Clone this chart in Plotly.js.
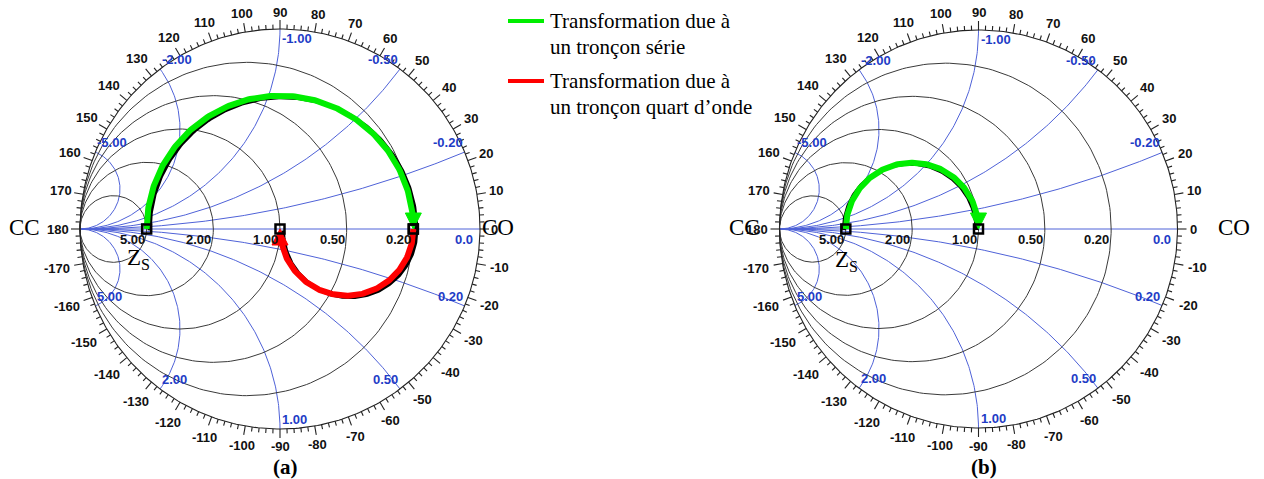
<!DOCTYPE html>
<html><head><meta charset="utf-8">
<script src="https://cdn.plot.ly/plotly-3.0.1.min.js"></script>
<style>html,body{margin:0;padding:0;background:#fff}#chart{width:1264px;height:479px}</style>
</head><body><div id="chart"></div>
<script>
// ---------------- data ----------------
const conductanceCircles = [0.2, 0.5, 1, 2, 5];
const conductanceLabels = ['0.20', '0.50', '1.00', '2.00', '5.00'];
const susceptanceArcs = [0.2, 0.5, 1, 2, 5, -0.2, -0.5, -1, -2, -5];
const susceptanceLabels = ['0.20', '0.50', '1.00', '2.00', '5.00', '-0.20', '-0.50', '-1.00', '-2.00', '-5.00'];
const angleTickLabels = [-170, -160, -150, -140, -130, -120, -110, -100, -90, -80, -70, -60, -50, -40, -30, -20, -10,
  0, 10, 20, 30, 40, 50, 60, 70, 80, 90, 100, 110, 120, 130, 140, 150, 160, 170, 180];
const chartNames = ['(a)', '(b)'];
// transformations: normalized admittance at start and end of each locus (rotation clockwise)
const lociChart = [0, 0, 1];
const lociStartAdmittance = [5, 0.2, 5];
const lociEndAdmittance = [0.2, 1, 1];
const lociType = ['serie', 'quart', 'serie'];
const legendLabels = [['Transformation due à', 'un tronçon série'], ['Transformation due à', 'un tronçon quart d\u2019onde']];

// ---------------- styles / geometry ----------------
const W = 1264, H = 479;
const charts = [
  {xa: 'x', ya: 'y', cx: 280, cy: 229, r: 200, domain: [0, 0.5], blackShift: [3, -1.5],
   cc: 24, co: 498, zs: [125, 243]},
  {xa: 'x2', ya: 'y2', cx: 978.5, cy: 229, r: 199, domain: [0.5, 1], blackShift: [-2, -1],
   cc: 744, co: 1234, zs: [833, 245]}
];
const BLUE_LINE = '#4f62d8', BLUE_TEXT = '#1e3cc6', GRID = '#3a3a3a';
const typeColor = {serie: '#00ee00', quart: '#ff0000'};
const SANS = 'Liberation Sans, Arial, sans-serif';
const SERIF = 'Liberation Serif, Times New Roman, serif';
const LBL = 13;
const D = Math.PI / 180;

function arc(cx, cy, r, a0, a1, n) {
  const xs = [], ys = [];
  for (let i = 0; i <= n; i++) {
    const a = (a0 + (a1 - a0) * i / n) * D;
    xs.push(cx + r * Math.cos(a)); ys.push(cy + r * Math.sin(a));
  }
  return [xs, ys];
}
const gamma = y => (1 - y) / (1 + y);

const traces = [];
const annotations = [];
const shapes = [];

charts.forEach((c, k) => {
  const base = {xaxis: c.xa, yaxis: c.ya, hoverinfo: 'skip', showlegend: false, type: 'scatter', mode: 'lines'};
  // susceptance arcs
  let bx = [], by = [];
  susceptanceArcs.forEach(b => {
    const Cx = -1, Cy = -1 / b, R = 1 / Math.abs(b);
    const a0 = Math.atan2(1 / b, 0) / D;
    const phi = -2 * Math.atan(b);
    const px = Math.cos(phi), py = Math.sin(phi);
    let a1 = Math.atan2(py - Cy, px - Cx) / D;
    let d = a1 - a0; while (d > 180) d -= 360; while (d < -180) d += 360;
    const [xs, ys] = arc(Cx, Cy, R, a0, a0 + d, 160);
    bx = bx.concat(xs, [null]); by = by.concat(ys, [null]);
  });
  bx.push(-1, 1); by.push(0, 0);
  traces.push(Object.assign({}, base, {x: bx, y: by, line: {color: BLUE_LINE, width: 1}}));
  // conductance circles
  let gx = [], gy = [];
  conductanceCircles.forEach(g => {
    const [xs, ys] = arc(-g / (1 + g), 0, 1 / (1 + g), 0, 360, 240);
    gx = gx.concat(xs, [null]); gy = gy.concat(ys, [null]);
  });
  traces.push(Object.assign({}, base, {x: gx, y: gy, line: {color: GRID, width: 1}}));
  // outer circle + ticks
  const [ox, oy] = arc(0, 0, 1, 0, 360, 400);
  let tx = ox.concat([null]), ty = oy.concat([null]);
  for (let a = -180; a < 180; a += 2) {
    const len = (a % 10 === 0 ? 9 : 4.5) / c.r;
    tx.push(Math.cos(a * D), (1 + len) * Math.cos(a * D), null);
    ty.push(Math.sin(a * D), (1 + len) * Math.sin(a * D), null);
  }
  traces.push(Object.assign({}, base, {x: tx, y: ty, line: {color: '#222', width: 1.1}}));

  // angle labels
  angleTickLabels.forEach(a => {
    const t = String(a);
    const w = 7.1 * t.length;
    const R = (211 + w / 2 * Math.abs(Math.cos(a * D)) + 6 * Math.abs(Math.sin(a * D))) / c.r;
    annotations.push({xref: c.xa, yref: c.ya, x: R * Math.cos(a * D), y: R * Math.sin(a * D),
      text: '<b>' + t + '</b>', showarrow: false, xanchor: 'center', yanchor: 'middle',
      font: {family: SANS, size: LBL, color: '#111'}});
  });
  // conductance labels
  conductanceCircles.forEach((g, i) => {
    annotations.push({xref: c.xa, yref: c.ya, x: gamma(g), y: 0, yshift: -1,
      text: '<b>' + conductanceLabels[i] + '</b>', showarrow: false, xanchor: 'right', yanchor: 'top',
      font: {family: SANS, size: LBL, color: '#111'}});
  });
  annotations.push({xref: c.xa, yref: c.ya, x: 0.975, y: 0, yshift: -1, text: '<b>0.0</b>', showarrow: false,
    xanchor: 'right', yanchor: 'top', font: {family: SANS, size: LBL, color: BLUE_TEXT}});
  // susceptance labels
  susceptanceArcs.forEach((b, i) => {
    const phi = -2 * Math.atan(b);
    const px = Math.cos(phi), py = Math.sin(phi);
    annotations.push({xref: c.xa, yref: c.ya, x: px, y: py,
      text: '<b>' + susceptanceLabels[i] + '</b>', showarrow: false,
      xanchor: px < -0.01 || Math.abs(px) < 0.01 ? 'left' : 'right',
      yanchor: b === -1 ? 'top' : 'bottom',
      font: {family: SANS, size: LBL, color: BLUE_TEXT}});
  });
  // CC / CO / Zs / chart name
  const pxToX = p => (p - c.cx) / c.r, pxToY = p => (c.cy - p) / c.r;
  annotations.push({xref: c.xa, yref: c.ya, x: pxToX(c.cc), y: pxToY(227), text: 'CC', showarrow: false,
    xanchor: 'center', yanchor: 'middle', font: {family: SERIF, size: 23, color: '#000'}});
  annotations.push({xref: c.xa, yref: c.ya, x: pxToX(c.co), y: pxToY(227), text: 'CO', showarrow: false,
    xanchor: 'center', yanchor: 'middle', font: {family: SERIF, size: 23, color: '#000'}});
  annotations.push({xref: c.xa, yref: c.ya, x: pxToX(c.zs[0]), y: pxToY(c.zs[1]), text: 'Z<sub>S</sub>', showarrow: false,
    xanchor: 'left', yanchor: 'top', font: {family: SERIF, size: 23, color: '#000'}});
  annotations.push({xref: c.xa, yref: c.ya, x: pxToX(c.cx + 5), y: pxToY(467), text: '<b>' + chartNames[k] + '</b>', showarrow: false,
    xanchor: 'center', yanchor: 'middle', font: {family: SERIF, size: 21, color: '#000'}});
});

// loci
lociChart.forEach((k, i) => {
  const c = charts[k];
  const base = {xaxis: c.xa, yaxis: c.ya, hoverinfo: 'skip', showlegend: false, type: 'scatter'};
  const g1 = gamma(lociStartAdmittance[i]), g2 = gamma(lociEndAdmittance[i]);
  const cen = (g1 + g2) / 2, R = Math.abs(g2 - g1) / 2;
  const a0 = g1 < cen ? 180 : 0;
  const a1 = a0 - 180; // clockwise
  const sx = c.blackShift[0] / c.r, sy = c.blackShift[1] / c.r;
  const [bx, by] = arc(cen, 0, R, a0, a1, 200);
  traces.push(Object.assign({}, base, {mode: 'lines', x: bx.map(v => v + sx), y: by.map(v => v + sy),
    line: {color: '#000', width: 4}}));
  // colored overlay ending under the arrow head
  const L = 16 / c.r, HW = 8 / c.r;
  const stopA = a1 + (L * 0.7 / R) / D;
  const [cx_, cy_] = arc(cen, 0, R, a0, stopA, 200);
  const col = typeColor[lociType[i]];
  traces.push(Object.assign({}, base, {mode: 'lines', x: cx_, y: cy_, line: {color: col, width: 6}}));
  // arrow head
  const tipX = cen + R * Math.cos(a1 * D), tipY = R * Math.sin(a1 * D);
  const dx = Math.sin(a1 * D), dy = -Math.cos(a1 * D);
  const bxC = tipX - L * dx, byC = tipY - L * dy;
  const qx = -dy, qy = dx;
  traces.push(Object.assign({}, base, {mode: 'lines', fill: 'toself', fillcolor: col,
    x: [tipX, bxC + HW * qx, bxC - HW * qx, tipX], y: [tipY, byC + HW * qy, byC - HW * qy, tipY],
    line: {color: col, width: 1}}));
  // end markers
  traces.push(Object.assign({}, base, {mode: 'markers', x: [g1, g2], y: [0, 0],
    marker: {symbol: 'square-open', size: 9, color: '#000', line: {color: '#000', width: 2.5}}}));
});

// legend (top centre)
legendLabels.forEach((lines, j) => {
  const col = j === 0 ? typeColor.serie : typeColor.quart;
  const y0 = 21 + 60 * j;
  shapes.push({type: 'line', xref: 'paper', yref: 'paper', x0: 508 / W, x1: 544 / W, y0: 1 - y0 / H, y1: 1 - y0 / H,
    line: {color: col, width: 4}});
  lines.forEach((t, m) => {
    annotations.push({xref: 'paper', yref: 'paper', x: 548 / W, y: 1 - (y0 + 26 * m) / H, text: t, showarrow: false,
      xanchor: 'left', yanchor: 'middle', font: {family: SERIF, size: 21, color: '#000'}});
  });
});

const layout = {
  width: W, height: H, margin: {l: 0, r: 0, t: 0, b: 0}, showlegend: false,
  paper_bgcolor: '#fff', plot_bgcolor: 'rgba(0,0,0,0)',
  annotations: annotations, shapes: shapes
};
charts.forEach((c, k) => {
  const sfx = k === 0 ? '' : '2';
  layout['xaxis' + sfx] = {domain: c.domain, range: [(c.domain[0] * W - c.cx) / c.r, (c.domain[1] * W - c.cx) / c.r],
    visible: false, fixedrange: true, anchor: 'y' + sfx};
  layout['yaxis' + sfx] = {domain: [0, 1], range: [(c.cy - H) / c.r, c.cy / c.r], visible: false, fixedrange: true,
    anchor: 'x' + sfx};
});
Plotly.newPlot('chart', traces, layout, {displayModeBar: false, staticPlot: true});
</script>
</body></html>
